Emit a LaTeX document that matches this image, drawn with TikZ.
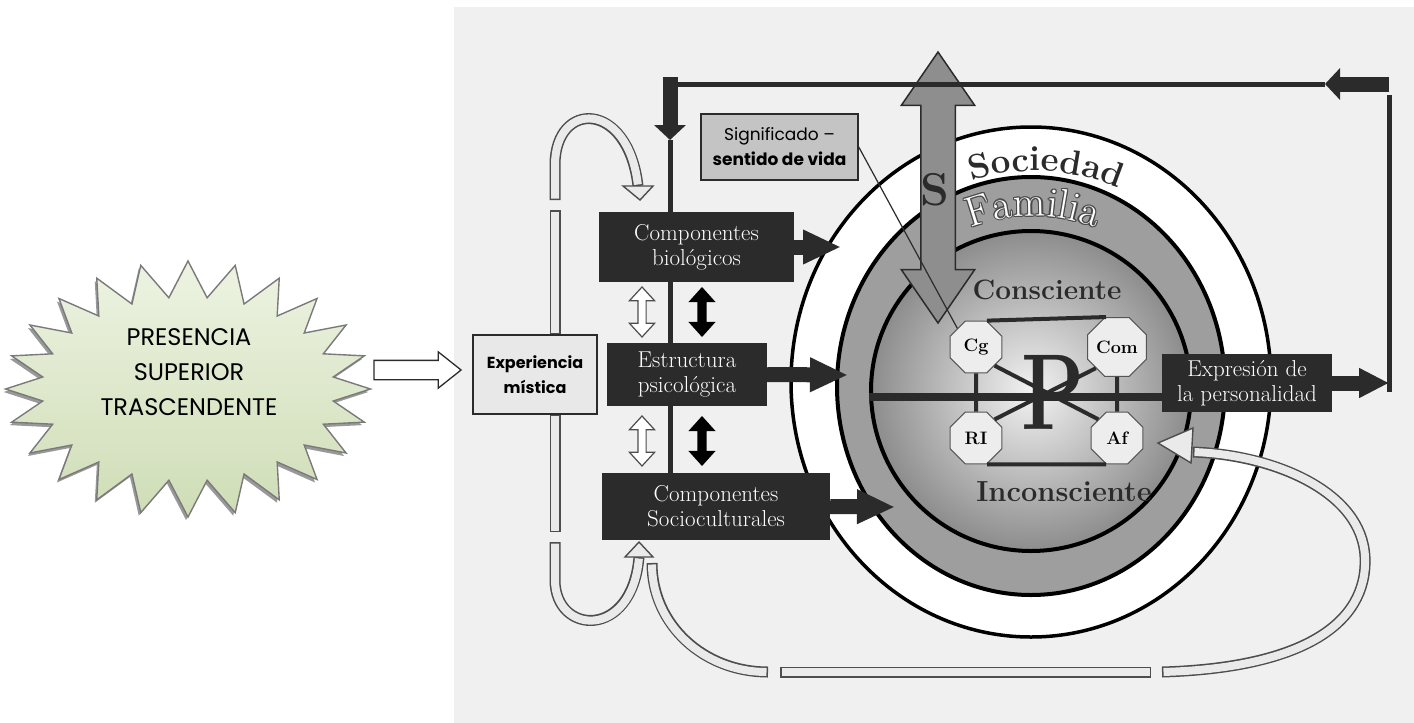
\documentclass[tikz,border=0pt]{standalone}
\usepackage{fontspec}
\newfontfamily\gothic{Poppins}
\usetikzlibrary{arrows.meta,shapes.symbols,shapes.geometric,shapes.arrows,shadows,decorations.text}

\definecolor{panelgray}{HTML}{F0F0F0}
\definecolor{boxdark}{HTML}{2B2B2B}
\definecolor{tubefill}{HTML}{EAEAEA}
\definecolor{tubeedge}{HTML}{4D4D4D}
\definecolor{ringgray}{HTML}{9E9E9E}
\definecolor{sgray}{HTML}{8E8E8E}
\definecolor{siggray}{HTML}{C4C4C4}
\definecolor{mistgray}{HTML}{E8E8E8}
\definecolor{octfill}{HTML}{EDEDED}
\definecolor{octedge}{HTML}{555555}
\definecolor{famedge}{HTML}{4A4A4A}
\definecolor{burstlight}{HTML}{EDF3E2}
\definecolor{burstdark}{HTML}{CFDDB6}
\definecolor{burstedge}{HTML}{7A7A7A}

\newcommand{\socfont}{\fontsize{35}{35}\selectfont\bfseries}
\newcommand{\famfont}{\fontsize{42}{42}\selectfont}
\newcommand{\tube}[1]{\draw[tubeout] #1; \draw[tubein] #1;}

\tikzset{
	darkbox/.style={fill=boxdark, text=white, align=center, inner sep=0pt,
		font=\fontsize{23}{25}\selectfont},
	lightbox/.style={draw=boxdark, line width=1.5pt, align=center, inner sep=0pt},
	blockarrow/.style={draw=boxdark, line width=15pt, -{Triangle[length=38pt,width=32pt]}},
	bararrow/.style={draw=boxdark, line width=15pt, -{Triangle[length=15pt,width=31pt]}},
	thinline/.style={draw=boxdark, line width=5pt},
	tubeout/.style={draw=tubeedge, line width=11pt},
	tubein/.style={draw=tubefill, line width=8pt, shorten <=1.5pt, shorten >=1.5pt},
	tubehead/.style={fill=tubefill, draw=tubeedge, line width=1.4pt, line join=miter},
	hollowdbl/.style={double arrow, draw=tubeedge, fill=white, line width=1.2pt, inner xsep=0pt,
		inner ysep=3.5pt, minimum height=50pt, double arrow head extend=8.5pt,
		double arrow tip angle=85, rotate=90},
	soliddbl/.style={double arrow, fill=black, inner xsep=0pt, inner ysep=4.5pt, minimum height=50pt,
		double arrow head extend=9pt, double arrow tip angle=84, rotate=90},
	octa/.style={regular polygon, regular polygon sides=8, minimum size=56pt, inner sep=0pt,
		fill=octfill, draw=octedge, line width=1pt, font=\fontsize{18}{18}\selectfont\bfseries},
	link/.style={draw=boxdark, line width=4pt},
	bigword/.style={font=\fontsize{28}{28}\selectfont\bfseries, text=boxdark},
}

\begin{document}
\begin{tikzpicture}[x=1pt, y=-1pt]
	\useasboundingbox (0,0) rectangle (1414,723);
	\fill[panelgray] (454,7) rectangle (1414,723);

	% presencia superior
	\node[starburst, starburst points=24, starburst point height=36pt, random starburst=0,
		minimum width=365pt, minimum height=256pt, inner sep=0pt, draw=burstedge, line width=1.4pt,
		top color=burstlight, bottom color=burstdark,
		drop shadow={shadow xshift=-2pt, shadow yshift=-3pt, fill=gray, opacity=.8}] (burst) at (188,389) {};
	\node[font=\gothic\fontsize{24}{35}\selectfont, align=center] (burstText) at (189,372)
		{PRESENCIA\\SUPERIOR\\TRASCENDENTE};
	\node[single arrow, draw=boxdark, fill=white, line width=1.3pt, inner xsep=0pt, inner ysep=9pt,
		minimum height=87pt, single arrow head extend=8.5pt,
		single arrow tip angle=77] (burstArrow) at (411.5,370) {};

	% anillos
	\draw[line width=3.5pt, fill=white] (1031,382) ellipse [x radius=240, y radius=255];
	\draw[line width=4pt, fill=ringgray] (1031,386) ellipse [x radius=194, y radius=209];
	\draw[line width=4pt, inner color=white!95!black, outer color=black!45] (1031,391) circle [radius=160];

	\path[decorate, decoration={text along path, text={|\socfont|Sociedad}, text align=center,
		text color=boxdark}] ([shift={(-127:213)}]1035,384) arc[start angle=-127, end angle=-47, radius=213];
	\foreach \dx/\dy in {1.3/0,-1.3/0,0/1.3,0/-1.3,.9/.9,-.9/.9,.9/-.9,-.9/-.9}
		\path[shift={(\dx,\dy)}, decorate, decoration={text along path, text={|\famfont|Familia},
			text align=center, text color=famedge}] ([shift={(-125:170)}]1033,386) arc[start angle=-125, end angle=-55, radius=170];
	\path[decorate, decoration={text along path, text={|\famfont|Familia}, text align=center,
		text color=white}] ([shift={(-125:170)}]1033,386) arc[start angle=-125, end angle=-55, radius=170];

	% S
	\node[double arrow, fill=sgray, draw=boxdark, line width=1.5pt, inner xsep=0pt, inner ysep=16.5pt,
		minimum height=271pt, double arrow head extend=19.5pt,
		double arrow tip angle=69, rotate=90] (sArrow) at (938,187.5) {};
	\node[font=\fontsize{46}{46}\selectfont\bfseries, text=boxdark] (sLabel) at (935,190) {S};

	% persona
	\coordinate (innerW) at (869,397);
	\draw[link, line width=8pt] (innerW) -- (1162,397);
	\node[font=\fontsize{108}{108}\selectfont\bfseries, text=boxdark] (pLetter) at (1053,392) {\scalebox{0.76}[1]{P}};
	\node[octa] (Cg) at (976,347) {Cg};
	\node[octa] (Com) at (1117,347) {Com};
	\node[octa] (RI) at (976,438) {RI};
	\node[octa] (Af) at (1117,438) {Af};
	\draw[link] ([xshift=11pt]Cg.north) -- ([xshift=-11pt]Com.north);
	\draw[link] ([xshift=11pt]RI.south) -- ([xshift=-11pt]Af.south);
	\draw[link] (Cg.south) -- (RI.north);
	\draw[link] (Com.south) -- (Af.north);
	\draw[link] (Cg.south east) -- (Af.north west);
	\draw[link] (RI.north east) -- (Com.south west);
	\node[bigword] (consc) at (1047,290) {Consciente};
	\node[bigword, font=\fontsize{29}{29}\selectfont\bfseries] (incons) at (1064,492) {Inconsciente};

	% significado
	\node[lightbox, fill=siggray, minimum width=157pt, minimum height=66pt,
		font=\gothic\fontsize{17}{25}\selectfont] (sig) at (779.5,147) {Significado –\\\textbf{sentido de vida}};
	\draw[boxdark, line width=1.2pt] (sig.east) -- (Cg.north west);

	% lazo superior
	\coordinate (topL) at (670,77);
	\coordinate (topLtip) at (670,140);
	\coordinate (topR) at (1389,84);
	\coordinate (topRtip) at (1325,84);
	\coordinate (retTop) at (1389,95);
	\coordinate (retBot) at (1389,392);
	\draw[thinline] (retBot) -- (retTop);
	\draw[bararrow] (topR) -- (topRtip);
	\draw[thinline] (topRtip) -- (topL |- topRtip);
	\draw[bararrow] (topL) -- (topLtip);

	% componentes
	\draw[thinline] (topLtip) -- (670,473);
	\node[darkbox, minimum width=195pt, minimum height=70pt] (bio) at (696.5,247) {Componentes\\biológicos};
	\node[darkbox, minimum width=160pt, minimum height=63pt] (est) at (687,374.5) {Estructura\\psicológica};
	\node[darkbox, minimum width=228pt, minimum height=67pt] (soc) at (716,506.5) {Componentes\\Socioculturales};
	\coordinate (bioTip) at (841,247);
	\coordinate (estTip) at (848,375);
	\coordinate (socTip) at (895,507);
	\draw[blockarrow] (bio.east) -- (bioTip);
	\draw[blockarrow] (est.east) -- (estTip);
	\draw[blockarrow] (soc.east) -- (socTip);
	\node[hollowdbl] (dblA) at (642,312) {};
	\node[hollowdbl] (dblB) at (642,441) {};
	\node[soliddbl] (dblC) at (702,312) {};
	\node[soliddbl] (dblD) at (702,441) {};

	% expresion
	\node[darkbox, minimum width=170pt, minimum height=58pt] (expr) at (1247,383) {Expresión de\\la personalidad};
	\draw[blockarrow, -{Triangle[length=30pt,width=28pt]}] (expr.east) -- (retBot |- expr.east);

	% experiencia mistica y retornos
	\coordinate (mistTopBar) at (555,210);
	\coordinate (mistBotBar) at (555,532);
	\coordinate (loopA) at (555,200);
	\coordinate (loopB) at (638,186);
	\coordinate (uA) at (555,542);
	\coordinate (uB) at (639,557);
	\coordinate (bigA) at (652,563);
	\coordinate (bigB) at (768,672);
	\coordinate (barA) at (780,672);
	\coordinate (barB) at (1151,672);
	\coordinate (rcA) at (1162,672);
	\coordinate (rcB) at (1193,452);
	\node[lightbox, fill=mistgray, minimum width=124pt, minimum height=79pt,
		font=\gothic\bfseries\fontsize{16}{25}\selectfont] (mist) at (535,374.5) {Experiencia\\mística};
	\tube{(mist.north -| mistTopBar) -- (mistTopBar)}
	\tube{(mist.south -| mistBotBar) -- (mistBotBar)}
	\tube{(loopA) -- (555,165) .. controls (555,100) and (628,100) .. (loopB)}
	\draw[tubehead] (loopB) ++(-15,0) -- ++(30,0) -- ++(-13,14) -- cycle;
	\tube{(uA) -- (555,580) .. controls (555,635) and (632,640) .. (uB)}
	\draw[tubehead] (uB) ++(-14,0) -- ++(28,0) -- ++(-14,-15) -- cycle;
	\tube{(bigA) .. controls (652,625) and (704,672) .. (bigB)}
	\tube{(barA) -- (barB)}
	\tube{(rcA) .. controls (1300,668) and (1368,625) .. (1365,557) .. controls (1362,492) and (1275,455) .. (rcB)}
	\draw[tubehead] (rcB) ++(0,-24) -- ++(-35,15) -- ++(33,20) -- cycle;
\end{tikzpicture}
\end{document}
